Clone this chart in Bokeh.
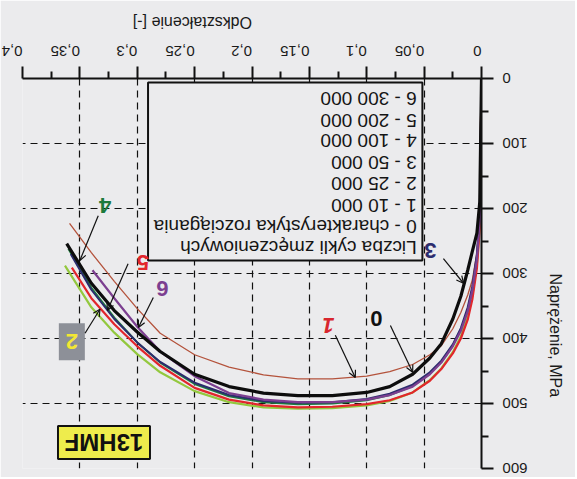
from math import pi
from bokeh.plotting import figure
from bokeh.models import Range1d, FixedTicker, ColumnDataSource, Arrow, OpenHead
from bokeh.core.properties import value
from bokeh.embed import file_html
from bokeh.resources import INLINE

# ---------------- data ----------------
X_TICKS = [0, 0.05, 0.1, 0.15, 0.2, 0.25, 0.3, 0.35, 0.4]
X_LABELS = ["0", "0,05", "0,1", "0,15", "0,2", "0,25", "0,3", "0,35", "0,4"]
X_MINOR = [0.025, 0.075, 0.125, 0.175, 0.225, 0.275, 0.325, 0.375]
Y_TICKS = [0, 100, 200, 300, 400, 500, 600]
Y_LABELS = ["\u2007\u20070", "100", "200", "300", "400", "500", "600"]
Y_MINOR = [50, 150, 250, 350, 450, 550]

E_GRID = [0, 0.0015, 0.004, 0.008, 0.012, 0.018, 0.025, 0.035, 0.045, 0.06,
          0.08, 0.10, 0.13, 0.16, 0.19, 0.22, 0.25, 0.28, 0.30, 0.32, 0.34]

strain_0 = E_GRID + [0.3615]
stress_0 = [0, 190, 238, 266, 295, 335, 370, 408, 430, 455, 474, 483, 488, 488, 484, 474, 455, 420, 390, 357, 315, 254]

strain_1 = E_GRID + [0.359]
stress_1 = [0, 215, 268, 310, 333, 360, 385, 411, 425, 440, 451, 458, 462, 462, 456, 444, 425, 392, 354, 312, 268, 223]

strain_2 = E_GRID + [0.363]
stress_2 = [0, 222, 285, 334, 366, 397, 421, 446, 464, 483, 496, 503, 507, 508, 506, 498, 481, 452, 424, 391, 352, 288]

strain_3 = E_GRID + [0.358]
stress_3 = [0, 210, 270, 320, 352, 384, 409, 434, 452, 471, 485, 493, 498, 499, 496, 487, 468, 436, 406, 370, 325, 270]

strain_4 = E_GRID + [0.36]
stress_4 = [0, 215, 275, 324, 356, 387, 411, 436, 454, 473, 487, 495, 500, 501, 498, 489, 470, 437, 406, 368, 322, 262]

strain_5 = E_GRID + [0.357]
stress_5 = [0, 230, 292, 340, 371, 400, 423, 447, 465, 483, 495, 501, 505, 506, 503, 494, 476, 442, 412, 378, 338, 291]

strain_6 = E_GRID[:-1] + [0.339]
stress_6 = [0, 215, 278, 326, 358, 388, 412, 437, 455, 474, 487, 494, 498, 498, 494, 484, 458, 420, 382, 338, 295]

LEGEND_LINES = ["Liczba cykli zmęczeniowych", "0 - charakterystyka rozciągania",
                "1 - 10 000", "2 - 25 000", "3 - 50 000", "4 - 100 000",
                "5 - 200 000", "6 - 300 000"]

CURVE_NAMES = ["0", "1", "2", "3", "4", "5", "6"]
MATERIAL = "13HMF"

# ---------------- layout / style ----------------
BG = "#ebebed"
FONT = "Liberation Sans"

p = figure(width=575, height=477, x_range=Range1d(0.4, 0), y_range=Range1d(600, 0),
           x_axis_location="above", y_axis_location="right",
           output_backend="svg", toolbar_location=None,
           min_border_left=22, min_border_right=94, min_border_top=78, min_border_bottom=9)
p.background_fill_color = BG
p.border_fill_color = BG
p.outline_line_color = None

xt = FixedTicker(ticks=X_TICKS, minor_ticks=X_MINOR)
yt = FixedTicker(ticks=Y_TICKS, minor_ticks=Y_MINOR)
p.xaxis.ticker = xt
p.yaxis.ticker = yt
p.xgrid.ticker = xt
p.ygrid.ticker = yt
p.xaxis.major_label_overrides = dict(zip(X_TICKS, X_LABELS))
p.yaxis.major_label_overrides = dict(zip(Y_TICKS, Y_LABELS))

for ax in (p.xaxis[0], p.yaxis[0]):
    ax.axis_line_width = 2
    ax.axis_line_color = "#111111"
    ax.major_tick_line_width = 2
    ax.major_tick_line_color = "#111111"
    ax.minor_tick_line_width = 2
    ax.minor_tick_line_color = "#111111"
    ax.major_tick_out = 12
    ax.major_tick_in = 0
    ax.minor_tick_out = 7
    ax.minor_tick_in = 0
    ax.major_label_text_font = FONT
    ax.major_label_text_font_size = "15px"
    ax.major_label_text_color = "#1a1a1a"
    ax.axis_label_text_font = FONT
    ax.axis_label_text_font_size = "16px"
    ax.axis_label_text_font_style = "normal"
    ax.axis_label_text_color = "#1a1a1a"
    ax.major_label_orientation = pi

p.xaxis.major_label_standoff = 16
p.yaxis.major_label_standoff = 34
p.xaxis.axis_label = "Odkształcenie [-]"
p.yaxis.axis_label = "Naprężenie, MPa"
p.xaxis.axis_label_standoff = 15
p.yaxis.axis_label_standoff = 0
try:
    p.xaxis.axis_label_orientation = pi
    p.yaxis.axis_label_orientation = -pi / 2
except Exception:
    pass

for g in (p.xgrid[0], p.ygrid[0]):
    g.grid_line_color = "#111111"
    g.grid_line_dash = "7 5"
    g.grid_line_width = 1.2

# legend box (drawn over the grid)
p.quad(left=[0.2906], right=[0.0515], top=[6], bottom=[280],
       fill_color=BG, line_color="#111111", line_width=2)
LEG_X = 0.0565
LEG_Y = [260, 227, 195, 162, 129, 96, 64, 31]
p.text(x=[LEG_X] * len(LEGEND_LINES), y=LEG_Y, text=LEGEND_LINES, angle=pi,
       text_align="left", text_baseline="middle", text_font=value(FONT),
       text_font_size="19px", text_color="#151515")

# curves
curves = [
    (strain_1, stress_1, "#b4533c", 1.3),
    (strain_2, stress_2, "#93c83e", 2.2),
    (strain_5, stress_5, "#e2262c", 2.2),
    (strain_4, stress_4, "#1d7a3c", 2.0),
    (strain_3, stress_3, "#2c2c6e", 2.0),
    (strain_6, stress_6, "#7c3f90", 2.2),
    (strain_0, stress_0, "#0d0d0d", 3.2),
]
for xs, ys, c, w in curves:
    p.line(xs, ys, line_color=c, line_width=w)

# label boxes
p.rect(x=[0.357], y=[405], width=26, height=37, width_units="screen",
       height_units="screen", fill_color="#8d9098", line_color=None)
p.rect(x=[0.329], y=[560], width=92, height=33, width_units="screen",
       height_units="screen", fill_color="#eeec4c", line_color="#111111", line_width=2)
p.text(x=[0.329], y=[560], text=[MATERIAL], angle=pi, text_align="center",
       text_baseline="middle", text_font=value(FONT), text_font_style="bold",
       text_font_size="24px", text_color="#111111")

# curve number labels
lab_x = [0.0916, 0.1335, 0.357, 0.0445, 0.328, 0.295, 0.278]
lab_y = [369, 380, 405, 265, 195, 283, 323]
lab_c = ["#111111", "#d8262e", "#f3e733", "#2c2c6e", "#1d7a3c", "#e2262c", "#7c3f90"]
upright = [0, 2, 3, 4, 5, 6]
p.text(x=[lab_x[i] for i in upright], y=[lab_y[i] for i in upright],
       text=[CURVE_NAMES[i] for i in upright], angle=pi, text_align="center",
       text_baseline="middle", text_font=value(FONT), text_font_style="bold",
       text_font_size="22px", text_color=[lab_c[i] for i in upright])
p.text(x=[lab_x[1]], y=[lab_y[1]], text=[CURVE_NAMES[1]], angle=pi, text_align="center",
       text_baseline="middle", text_font=value(FONT), text_font_style="bold italic",
       text_font_size="22px", text_color=lab_c[1])

arrows = ColumnDataSource(dict(
    x0=[0.0794, 0.1274, 0.3455, 0.0332, 0.334, 0.308, 0.286],
    y0=[380, 395, 392, 277, 211, 285, 337],
    x1=[0.060, 0.110, 0.3325, 0.0157, 0.350, 0.326, 0.299],
    y1=[452, 460, 355, 315, 280, 357, 383],
))
p.add_layout(Arrow(source=arrows, x_start="x0", y_start="y0", x_end="x1", y_end="y1",
                   line_color="#111111", line_width=1.2,
                   end=OpenHead(size=7, line_width=1.2, line_color="#111111")))

html = file_html(p, INLINE)
html = html.replace("<body>", '<body style="background:%s">' % BG, 1)
open("out.html", "w").write(html)
